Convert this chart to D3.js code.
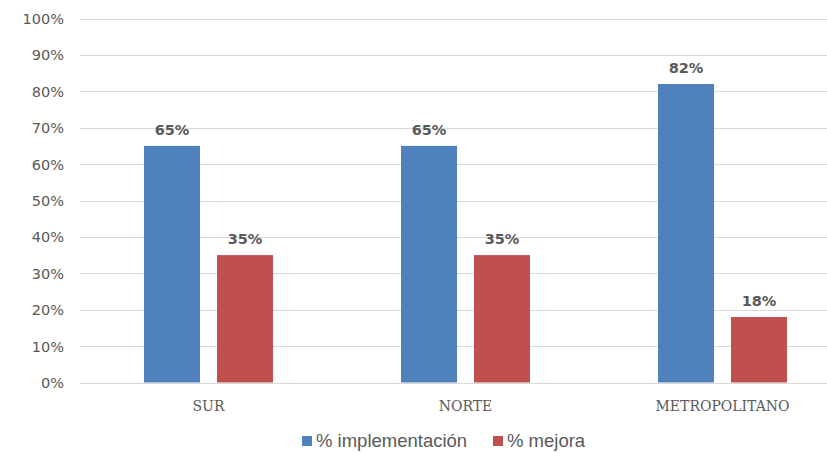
<!DOCTYPE html>
<html>
<head>
<meta charset="utf-8">
<script src="https://cdn.jsdelivr.net/npm/d3@7"></script>
<style>
  html, body { margin: 0; padding: 0; background: #ffffff; }
  svg { display: block; }
</style>
</head>
<body>
<svg id="chart" width="827" height="454"></svg>
<script>
// Zonas y series (porcentajes)
const categories = ["SUR", "NORTE", "METROPOLITANO"];
const seriesNames = ["% implementación", "% mejora"];
const implementacion = [65, 65, 82];
const mejora = [35, 35, 18];
const yTicks = [0, 10, 20, 30, 40, 50, 60, 70, 80, 90, 100];

const colors = ["#4f81bd", "#c0504d"];
const seriesValues = [implementacion, mejora];

const svg = d3.select("#chart");
const W = 827, H = 454;
const plot = { left: 80, right: 851, top: 18.5, bottom: 382.5 };

const x = d3.scaleBand()
  .domain(categories)
  .range([plot.left, plot.right])
  .paddingInner(0)
  .paddingOuter(0);

const x1 = d3.scaleBand()
  .domain(seriesNames)
  .range([0, 129])
  .paddingInner(17 / 73)
  .paddingOuter(0);

const y = d3.scaleLinear().domain([0, 100]).range([plot.bottom, plot.top]);

// Líneas de cuadrícula
svg.append("g")
  .selectAll("line")
  .data(yTicks)
  .join("line")
  .attr("x1", plot.left)
  .attr("x2", W)
  .attr("y1", d => Math.round(y(d)) + 0.5)
  .attr("y2", d => Math.round(y(d)) + 0.5)
  .attr("stroke", "#d9d9d9")
  .attr("stroke-width", 1.2);

// Eje Y
const yAxis = d3.axisLeft(y).tickValues(yTicks).tickFormat(d => d + "%").tickSize(0).tickPadding(0);
const gy = svg.append("g").attr("transform", `translate(${plot.left - 16},0)`).call(yAxis);
gy.select(".domain").remove();
gy.selectAll("text")
  .attr("fill", "#595959")
  .attr("font-family", "DejaVu Sans, Verdana, sans-serif")
  .attr("font-size", 14.5)
  .attr("dy", "0.35em");

// Barras
const groups = svg.append("g")
  .selectAll("g")
  .data(categories)
  .join("g")
  .attr("transform", d => `translate(${x(d) + (x.bandwidth() - 129) / 2},0)`);

groups.selectAll("rect")
  .data((c, i) => seriesNames.map((s, j) => ({ s, v: seriesValues[j][i], j })))
  .join("rect")
  .attr("x", d => x1(d.s))
  .attr("width", x1.bandwidth())
  .attr("y", d => y(d.v))
  .attr("height", d => y(0) - y(d.v))
  .attr("fill", d => colors[d.j]);

// Etiquetas de valor
groups.selectAll("text.val")
  .data((c, i) => seriesNames.map((s, j) => ({ s, v: seriesValues[j][i], j })))
  .join("text")
  .attr("class", "val")
  .attr("x", d => x1(d.s) + x1.bandwidth() / 2)
  .attr("y", d => y(d.v) - 16)
  .attr("text-anchor", "middle")
  .attr("dy", "0.35em")
  .attr("fill", "#595959")
  .attr("font-family", "DejaVu Sans, Verdana, sans-serif")
  .attr("font-weight", "bold")
  .attr("font-size", 14.5)
  .text(d => d.v + "%");

// Eje X (categorías)
const xAxis = d3.axisBottom(x).tickSize(0).tickPadding(0);
const gx = svg.append("g").attr("transform", `translate(0,${plot.bottom + 24})`).call(xAxis);
gx.select(".domain").remove();
gx.selectAll("text")
  .attr("fill", "#595959")
  .attr("font-family", "DejaVu Serif, Liberation Serif, serif")
  .attr("font-size", 14)
  .attr("dy", "0.35em")
  .attr("y", 0);
gx.selectAll(".tick").attr("transform", d => `translate(${x(d) + x.bandwidth() / 2},0)`);

// Leyenda
const legend = svg.append("g").attr("transform", "translate(302,441)");
const legendX = [0, 191];
seriesNames.forEach((s, i) => {
  const g = legend.append("g").attr("transform", `translate(${legendX[i]},0)`);
  g.append("rect").attr("x", 0).attr("y", -5).attr("width", 10).attr("height", 10).attr("fill", colors[i]);
  g.append("text")
    .attr("x", 14)
    .attr("y", 0)
    .attr("dy", "0.35em")
    .attr("fill", "#595959")
    .attr("font-family", "Liberation Sans, Arial, sans-serif")
    .attr("font-size", 18.5)
    .text(s);
});
</script>
</body>
</html>
